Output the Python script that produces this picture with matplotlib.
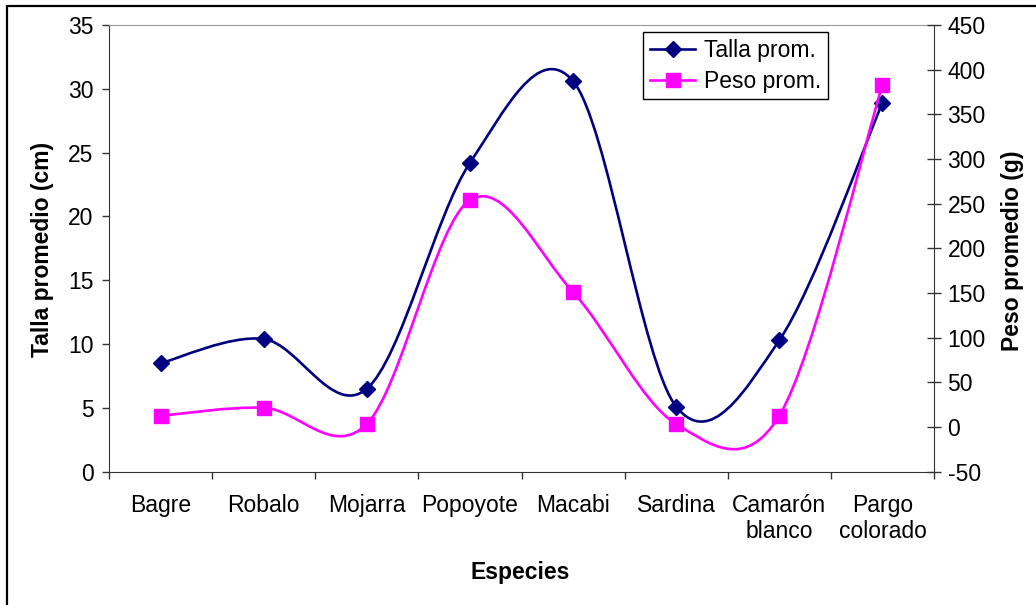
import numpy as np
import matplotlib
matplotlib.use("Agg")
import matplotlib.pyplot as plt
from matplotlib.path import Path
from matplotlib.patches import PathPatch, Rectangle
from matplotlib.lines import Line2D

plt.rcParams["font.family"] = ["Liberation Sans", "DejaVu Sans"]
plt.rcParams["axes.unicode_minus"] = False

# datos
especies = ["Bagre", "Robalo", "Mojarra", "Popoyote", "Macabi", "Sardina",
            "Camarón\nblanco", "Pargo\ncolorado"]
talla = [8.5, 10.4, 6.5, 24.2, 30.6, 5.1, 10.3, 28.9]      # cm
peso = [12.6, 21.6, 3.4, 254, 151, 3.4, 12.6, 383]         # g

NAVY = "#000080"
MAGENTA = "#FF00FF"
FS = 16.5


def smooth_path(y):
    # curva suavizada tipo Excel (Bezier Catmull-Rom) a través de los puntos
    x = np.arange(len(y)) + 0.5
    pts = np.column_stack([x, y])
    ext = np.vstack([pts[0], pts, pts[-1]])
    verts, codes = [pts[0]], [Path.MOVETO]
    for i in range(len(pts) - 1):
        p0, p1, p2, p3 = ext[i], ext[i + 1], ext[i + 2], ext[i + 3]
        verts += [p1 + (p2 - p0) / 6, p2 - (p3 - p1) / 6, p2]
        codes += [Path.CURVE4] * 3
    return Path(verts, codes)


fig = plt.figure(figsize=(10.36, 6.05), dpi=100)
ax = fig.add_axes([109 / 1036, 1 - 471.7 / 605, 825 / 1036, 446.7 / 605])
ax2 = ax.twinx()

xc = np.arange(len(especies)) + 0.5
ax.add_patch(PathPatch(smooth_path(talla), fill=False, ec=NAVY, lw=1.9, zorder=3))
ax.plot(xc, talla, ls="none", marker="D", ms=8, color=NAVY, zorder=4)
ax2.add_patch(PathPatch(smooth_path(peso), fill=False, ec=MAGENTA, lw=1.9, zorder=3))
ax2.plot(xc, peso, ls="none", marker="s", ms=10.5, color=MAGENTA, zorder=4)

ax.set_xlim(0, len(especies))
ax.set_ylim(0, 35)
ax.set_yticks(range(0, 36, 5))
ax2.set_ylim(-50, 450)
ax2.set_yticks(range(-50, 451, 50))

ax.set_xticks(range(0, len(especies) + 1))
ax.set_xticklabels([])
ax.set_xticks(xc, minor=True)
ax.set_xticklabels(especies, minor=True, fontsize=FS, linespacing=1.15)
ax.tick_params(axis="x", which="major", direction="out", length=5, width=1, color="#333333")
ax.tick_params(axis="x", which="minor", length=0, pad=16)
ax.tick_params(axis="y", direction="out", length=5, width=1, color="#333333",
               labelsize=FS, pad=6)
ax2.tick_params(axis="y", direction="inout", length=9.5, width=1, color="#333333",
                labelsize=FS, pad=5)

for a in (ax, ax2):
    for s in a.spines.values():
        s.set_visible(False)
ax.spines["left"].set_visible(True)
ax.spines["left"].set_color("#333333")
ax.spines["bottom"].set_visible(True)
ax.spines["bottom"].set_color("#333333")
ax.spines["top"].set_visible(True)
ax.spines["top"].set_color("#999999")
ax2.spines["right"].set_visible(True)
ax2.spines["right"].set_color("#333333")

fig.text(43 / 1036, 1 - 249 / 605, "Talla promedio (cm)", rotation=90, ha="center",
         va="center", fontsize=FS, fontweight="bold")
fig.text(1013 / 1036, 1 - 251 / 605, "Peso promedio (g)", rotation=90, ha="center",
         va="center", fontsize=FS, fontweight="bold")
fig.text(520 / 1036, 1 - 573 / 605, "Especies", ha="center", va="center",
         fontsize=FS, fontweight="bold")

handles = [Line2D([], [], color=NAVY, lw=1.9, marker="D", ms=8),
           Line2D([], [], color=MAGENTA, lw=1.9, marker="s", ms=10.5)]
leg = ax2.legend(handles, ["Talla prom.", "Peso prom."], loc="upper left",
                 bbox_to_anchor=(0.647, 0.985), borderaxespad=0, fontsize=FS,
                 fancybox=False, framealpha=1, edgecolor="black", handlelength=2.0,
                 handletextpad=0.35, labelspacing=0.35, borderpad=0.3)
leg.get_frame().set_linewidth(1)

# marco exterior del gráfico
fig.add_artist(Rectangle((7 / 1036, -0.1), 1.2, 1 - 6 / 605 + 0.1, transform=fig.transFigure,
                         fill=False, ec="black", lw=1.6))

fig.savefig("out.png", dpi=100)
